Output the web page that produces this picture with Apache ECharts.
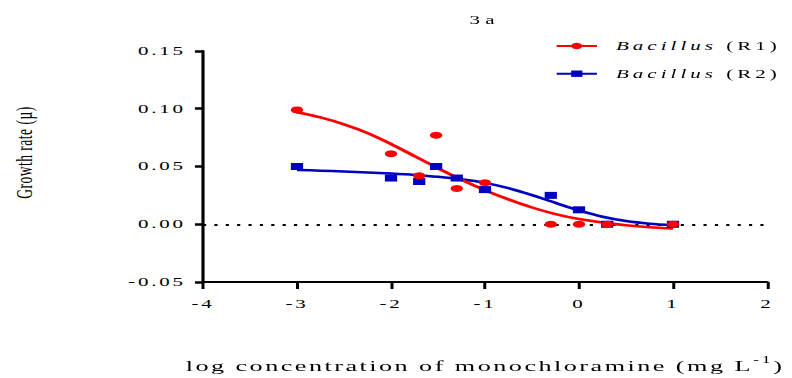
<!DOCTYPE html>
<html>
<head>
<meta charset="utf-8">
<script src="https://cdn.jsdelivr.net/npm/echarts@6/dist/echarts.min.js"></script>
<style>
  html, body { margin: 0; padding: 0; background: #fff; overflow: hidden; }
  #chart { width: 452.571px; height: 378px; transform: scaleX(1.75); transform-origin: 0 0; }
</style>
</head>
<body>
<div id="chart"></div>
<script>
// ---------- data ----------
const chartTitle = '3a';
const seriesNames = ['Bacillus (R1)', 'Bacillus (R2)'];
const xTicks = [-4, -3, -2, -1, 0, 1, 2];
const yTicks = [-0.05, 0, 0.05, 0.10, 0.15];
const xNameMain = 'log concentration of monochloramine (mg L';
const xNameSup = '-1';
const xNameEnd = ')';
const yName = 'Growth rate (µ)';

// measured points (log concentration, growth rate)
const r1X = [-3, -2, -1.7, -1.52, -1.3, -1, -0.3, 0, 0.3, 1];
const r1Y = [0.099, 0.061, 0.042, 0.077, 0.031, 0.036, 0, 0, 0, 0];
const r2X = [-3, -2, -1.7, -1.52, -1.3, -1, -0.3, 0, 0.3, 1];
const r2Y = [0.050, 0.040, 0.037, 0.050, 0.040, 0.030, 0.025, 0.0125, 0, 0];

// fitted curves
const fitX  = [-3, -2.75, -2.5, -2.25, -2, -1.75, -1.5, -1.25, -1, -0.75, -0.5, -0.25, 0, 0.25, 0.5, 0.75, 1];
const fit1Y = [0.097, 0.0925, 0.0865, 0.079, 0.0695, 0.059, 0.0485, 0.0385, 0.0295, 0.0215, 0.0145, 0.0088, 0.0045, 0.0015, -0.0008, -0.0025, -0.0037];
const fit2Y = [0.047, 0.0464, 0.0457, 0.0449, 0.0439, 0.0427, 0.0411, 0.0389, 0.0358, 0.0312, 0.0252, 0.0185, 0.012, 0.0065, 0.0028, 0.0005, -0.0008];

const colors = ['#FF0000', '#0000C0'];

// ---------- text helpers ----------
const FF = '"Liberation Serif", "Times New Roman", serif';
const LS_TICK = 1.6, LS_LEG = 2.3, LS_XNAME = 1.4, LS_YNAME = 0.5, LS_TITLE = 3;
const mctx = document.createElement('canvas').getContext('2d');
function tw(str, size, italic) {
  mctx.font = (italic ? 'italic ' : '') + size + 'px "Liberation Serif"';
  return mctx.measureText(str).width;
}
const legItalic = 'Bacillus';
const legW_i = tw(legItalic, 12, true) + LS_LEG * legItalic.length + tw(' ', 12, false) + LS_LEG;
function legRest(name) { return name.replace('Bacillus ', ''); }
const legW_r = Math.max(...seriesNames.map(n => tw(legRest(n), 12, false) + LS_LEG * legRest(n).length));

const xW_a = tw(xNameMain, 15, false) + LS_XNAME * xNameMain.length;
const xW_s = tw(xNameSup, 10, false) + LS_TICK * xNameSup.length;
const xW_b = tw(xNameEnd, 15, false) + LS_XNAME * xNameEnd.length;

const zip = (xs, ys) => xs.map((x, i) => [x, ys[i]]);

const chart = echarts.init(document.getElementById('chart'), null, { renderer: 'svg', width: 452.571, height: 378 });

const option = {
  animation: false,
  backgroundColor: '#fff',
  title: {
    text: chartTitle, left: 268.3, top: 14, padding: 0,
    textStyle: { fontFamily: FF, fontSize: 12, fontWeight: 'normal', color: '#000' }
  },
  legend: {
    orient: 'vertical', left: 317.1, top: 40, padding: 0,
    itemWidth: 23, itemHeight: 8, itemGap: 15.7,
    data: seriesNames,
    formatter: name => '{i|' + legItalic + '}{r|' + legRest(name) + '}',
    textStyle: {
      fontFamily: FF, fontSize: 12, color: '#000', padding: [0, 0, 0, 5.9],
      rich: {
        i: { fontFamily: FF, fontSize: 12, fontStyle: 'italic', color: '#000', width: legW_i, lineHeight: 14 },
        r: { fontFamily: FF, fontSize: 12, color: '#000', width: legW_r, lineHeight: 14 }
      }
    }
  },
  grid: { left: 116, right: 14.3, top: 51, bottom: 96, containLabel: false, outerBoundsMode: 'none' },
  xAxis: {
    type: 'value', min: xTicks[0], max: xTicks[xTicks.length - 1], interval: 1,
    splitLine: { show: false },
    axisLine: { show: true, onZero: false, lineStyle: { color: '#000', width: 2 } },
    axisTick: { show: true, length: 7, lineStyle: { color: '#000', width: 1.7 } },
    axisLabel: { margin: 16.5, fontFamily: FF, fontSize: 12, color: '#000', formatter: v => String(v) },
    name: '{a|' + xNameMain + '}{s|' + xNameSup + '}{b|' + xNameEnd + '}',
    nameLocation: 'middle', nameGap: 72,
    nameTextStyle: {
      fontFamily: FF, fontSize: 15, color: '#000',
      rich: {
        a: { fontFamily: FF, fontSize: 15, color: '#000', width: xW_a },
        s: { fontFamily: FF, fontSize: 10, color: '#000', width: xW_s, padding: [0, 0, 14, 0] },
        b: { fontFamily: FF, fontSize: 15, color: '#000', width: xW_b }
      }
    }
  },
  yAxis: {
    type: 'value', min: yTicks[0], max: yTicks[yTicks.length - 1], interval: 0.05,
    splitLine: { show: false },
    axisLine: { show: true, onZero: false, lineStyle: { color: '#000', width: 1.8 } },
    axisTick: { show: true, length: 4.6, lineStyle: { color: '#000', width: 2.5 } },
    axisLabel: { margin: 9.8, fontFamily: FF, fontSize: 12, color: '#000', padding: [4, 0, 0, 0], formatter: v => v.toFixed(2) },
    name: yName, nameLocation: 'middle', nameGap: 95,
    nameTextStyle: { fontFamily: FF, fontSize: 13.5, color: '#000', padding: [0, 0, 0, 28] }
  },
  series: [
    {
      name: seriesNames[1], type: 'line', data: zip(fitX, fit2Y), smooth: 0.3,
      showSymbol: false, symbol: 'rect', symbolSize: 7, z: 2,
      lineStyle: { color: colors[1], width: 2.5 }, itemStyle: { color: colors[1] }
    },
    {
      name: seriesNames[0], type: 'line', data: zip(fitX, fit1Y), smooth: 0.3,
      showSymbol: false, symbol: 'circle', symbolSize: 7, z: 3,
      lineStyle: { color: colors[0], width: 2.5 }, itemStyle: { color: colors[0] },
      markLine: {
        silent: true, symbol: 'none', z: 1, label: { show: false },
        lineStyle: { color: '#000', type: [1.8, 4.7], width: 2.2 },
        data: [{ yAxis: 0 }]
      }
    },
    {
      name: 'R2 points', type: 'scatter', data: zip(r2X, r2Y), symbol: 'rect', symbolSize: 7, z: 4,
      itemStyle: { color: colors[1], opacity: 1 }
    },
    {
      name: 'R1 points', type: 'scatter', data: zip(r1X, r1Y), symbol: 'circle', symbolSize: 7, z: 5,
      itemStyle: { color: colors[0], opacity: 1 }
    }
  ]
};
chart.setOption(option);

function applySpacing() {
  const map = new Map();
  map.set(chartTitle, LS_TITLE);
  map.set(yName, LS_YNAME);
  map.set(xNameMain, LS_XNAME);
  map.set(xNameEnd, LS_XNAME);
  map.set(legItalic, LS_LEG);
  seriesNames.forEach(n => map.set(legRest(n), LS_LEG));
  document.querySelectorAll('#chart text').forEach(t => {
    const s = t.textContent;
    const ls = map.has(s) ? map.get(s) : LS_TICK;
    t.setAttribute('letter-spacing', ls);
  });
}
applySpacing();
chart.on('finished', applySpacing);
</script>
</body>
</html>
